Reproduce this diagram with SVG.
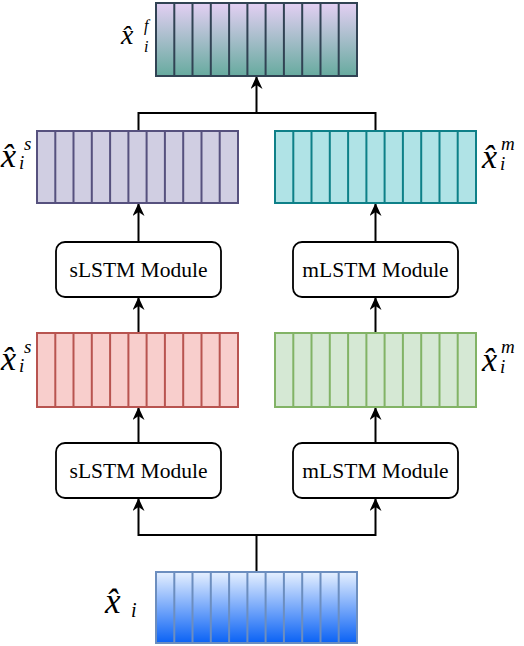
<svg xmlns="http://www.w3.org/2000/svg" width="524" height="646" viewBox="0 0 524 646">
<style>
.mod{fill:#ffffff;stroke:#000000;stroke-width:1.8}
.modt{font-family:"Liberation Serif","Times New Roman",serif;font-size:21.5px;fill:#000;text-anchor:middle}
.conn{fill:none;stroke:#000000;stroke-width:2}
.m{font-family:"Liberation Serif","Times New Roman",serif;font-style:italic;fill:#000}
</style>
<defs>
<linearGradient id="gTop" x1="0" y1="0" x2="0" y2="1">
<stop offset="0" stop-color="#e3cff3"/>
<stop offset="1" stop-color="#67ab9f"/>
</linearGradient>
<linearGradient id="gBot" x1="0" y1="0" x2="0" y2="1">
<stop offset="0" stop-color="#e6f0ff"/>
<stop offset="1" stop-color="#0a62f5"/>
</linearGradient>
<marker id="arr" markerUnits="userSpaceOnUse" viewBox="0 0 13 12" refX="12" refY="6" markerWidth="13" markerHeight="12" orient="auto">
<path d="M0,0 L13,6 L0,12 L4,6 Z" fill="#000"/>
</marker>
</defs>

<g id="connectors">
<path class="conn" d="M138.5,131 V113 H375.5 V131"/>
<path class="conn" d="M256.5,113 V77" marker-end="url(#arr)"/>
<path class="conn" d="M138.5,242 V204" marker-end="url(#arr)"/>
<path class="conn" d="M375.5,242 V204" marker-end="url(#arr)"/>
<path class="conn" d="M138.5,333 V298" marker-end="url(#arr)"/>
<path class="conn" d="M375.5,333 V298" marker-end="url(#arr)"/>
<path class="conn" d="M138.5,443 V408" marker-end="url(#arr)"/>
<path class="conn" d="M375.5,443 V408" marker-end="url(#arr)"/>
<path class="conn" d="M256.5,572 V535 H138.5 V499" marker-end="url(#arr)"/>
<path class="conn" d="M256.5,535 H375.5 V499" marker-end="url(#arr)"/>
</g>

<g id="xf">
<rect x="156" y="3" width="201" height="73" fill="url(#gTop)" stroke="#314354" stroke-width="2"/>
<path d="M174.3,3V76M192.5,3V76M210.8,3V76M229.1,3V76M247.4,3V76M265.6,3V76M283.9,3V76M302.2,3V76M320.5,3V76M338.7,3V76" stroke="#314354" stroke-width="2"/>
<text class="m" font-size="28"><tspan x="121" y="44">x̂</tspan><tspan x="144" y="31" font-size="16">f</tspan><tspan x="144" y="52" font-size="16">i</tspan></text>
</g>

<g id="xs_top">
<rect x="37" y="131" width="201" height="72" fill="#d0cee2" stroke="#56517e" stroke-width="2"/>
<path d="M55.3,131V203M73.5,131V203M91.8,131V203M110.1,131V203M128.4,131V203M146.6,131V203M164.9,131V203M183.2,131V203M201.5,131V203M219.7,131V203" stroke="#56517e" stroke-width="2"/>
<text class="m" font-size="34"><tspan x="1" y="167">x̂</tspan><tspan x="24" y="150" font-size="19">s</tspan><tspan x="19" y="169" font-size="19">i</tspan></text>
</g>

<g id="xm_top">
<rect x="275" y="131" width="201" height="72" fill="#b0e3e6" stroke="#0e8088" stroke-width="2"/>
<path d="M293.3,131V203M311.5,131V203M329.8,131V203M348.1,131V203M366.4,131V203M384.6,131V203M402.9,131V203M421.2,131V203M439.5,131V203M457.7,131V203" stroke="#0e8088" stroke-width="2"/>
<text class="m" font-size="34"><tspan x="482" y="168">x̂</tspan><tspan x="501" y="150" font-size="19">m</tspan><tspan x="500" y="170" font-size="19">i</tspan></text>
</g>

<g id="slstm_top">
<rect class="mod" x="56" y="242" width="165" height="55" rx="9"/>
<text class="modt" x="138.5" y="277">sLSTM Module</text>
</g>

<g id="mlstm_top">
<rect class="mod" x="293" y="242" width="165" height="55" rx="9"/>
<text class="modt" x="375.5" y="277">mLSTM Module</text>
</g>

<g id="xs_mid">
<rect x="37" y="333" width="201" height="74" fill="#f8cecc" stroke="#b85450" stroke-width="2"/>
<path d="M55.3,333V407M73.5,333V407M91.8,333V407M110.1,333V407M128.4,333V407M146.6,333V407M164.9,333V407M183.2,333V407M201.5,333V407M219.7,333V407" stroke="#b85450" stroke-width="2"/>
<text class="m" font-size="34"><tspan x="1" y="370">x̂</tspan><tspan x="24" y="353" font-size="19">s</tspan><tspan x="19" y="372" font-size="19">i</tspan></text>
</g>

<g id="xm_mid">
<rect x="275" y="333" width="201" height="74" fill="#d5e8d4" stroke="#82b366" stroke-width="2"/>
<path d="M293.3,333V407M311.5,333V407M329.8,333V407M348.1,333V407M366.4,333V407M384.6,333V407M402.9,333V407M421.2,333V407M439.5,333V407M457.7,333V407" stroke="#82b366" stroke-width="2"/>
<text class="m" font-size="34"><tspan x="482" y="371">x̂</tspan><tspan x="501" y="353" font-size="19">m</tspan><tspan x="500" y="373" font-size="19">i</tspan></text>
</g>

<g id="slstm_bot">
<rect class="mod" x="56" y="443" width="165" height="55" rx="9"/>
<text class="modt" x="138.5" y="478">sLSTM Module</text>
</g>

<g id="mlstm_bot">
<rect class="mod" x="293" y="443" width="165" height="55" rx="9"/>
<text class="modt" x="375.5" y="478">mLSTM Module</text>
</g>

<g id="xi">
<rect x="156" y="572" width="201" height="71" fill="url(#gBot)" stroke="#6c8ebf" stroke-width="2"/>
<path d="M174.3,572V643M192.5,572V643M210.8,572V643M229.1,572V643M247.4,572V643M265.6,572V643M283.9,572V643M302.2,572V643M320.5,572V643M338.7,572V643" stroke="#6c8ebf" stroke-width="2"/>
<text class="m" font-size="35"><tspan x="105" y="613">x̂</tspan><tspan x="131" y="617" font-size="20">i</tspan></text>
</g>
</svg>
